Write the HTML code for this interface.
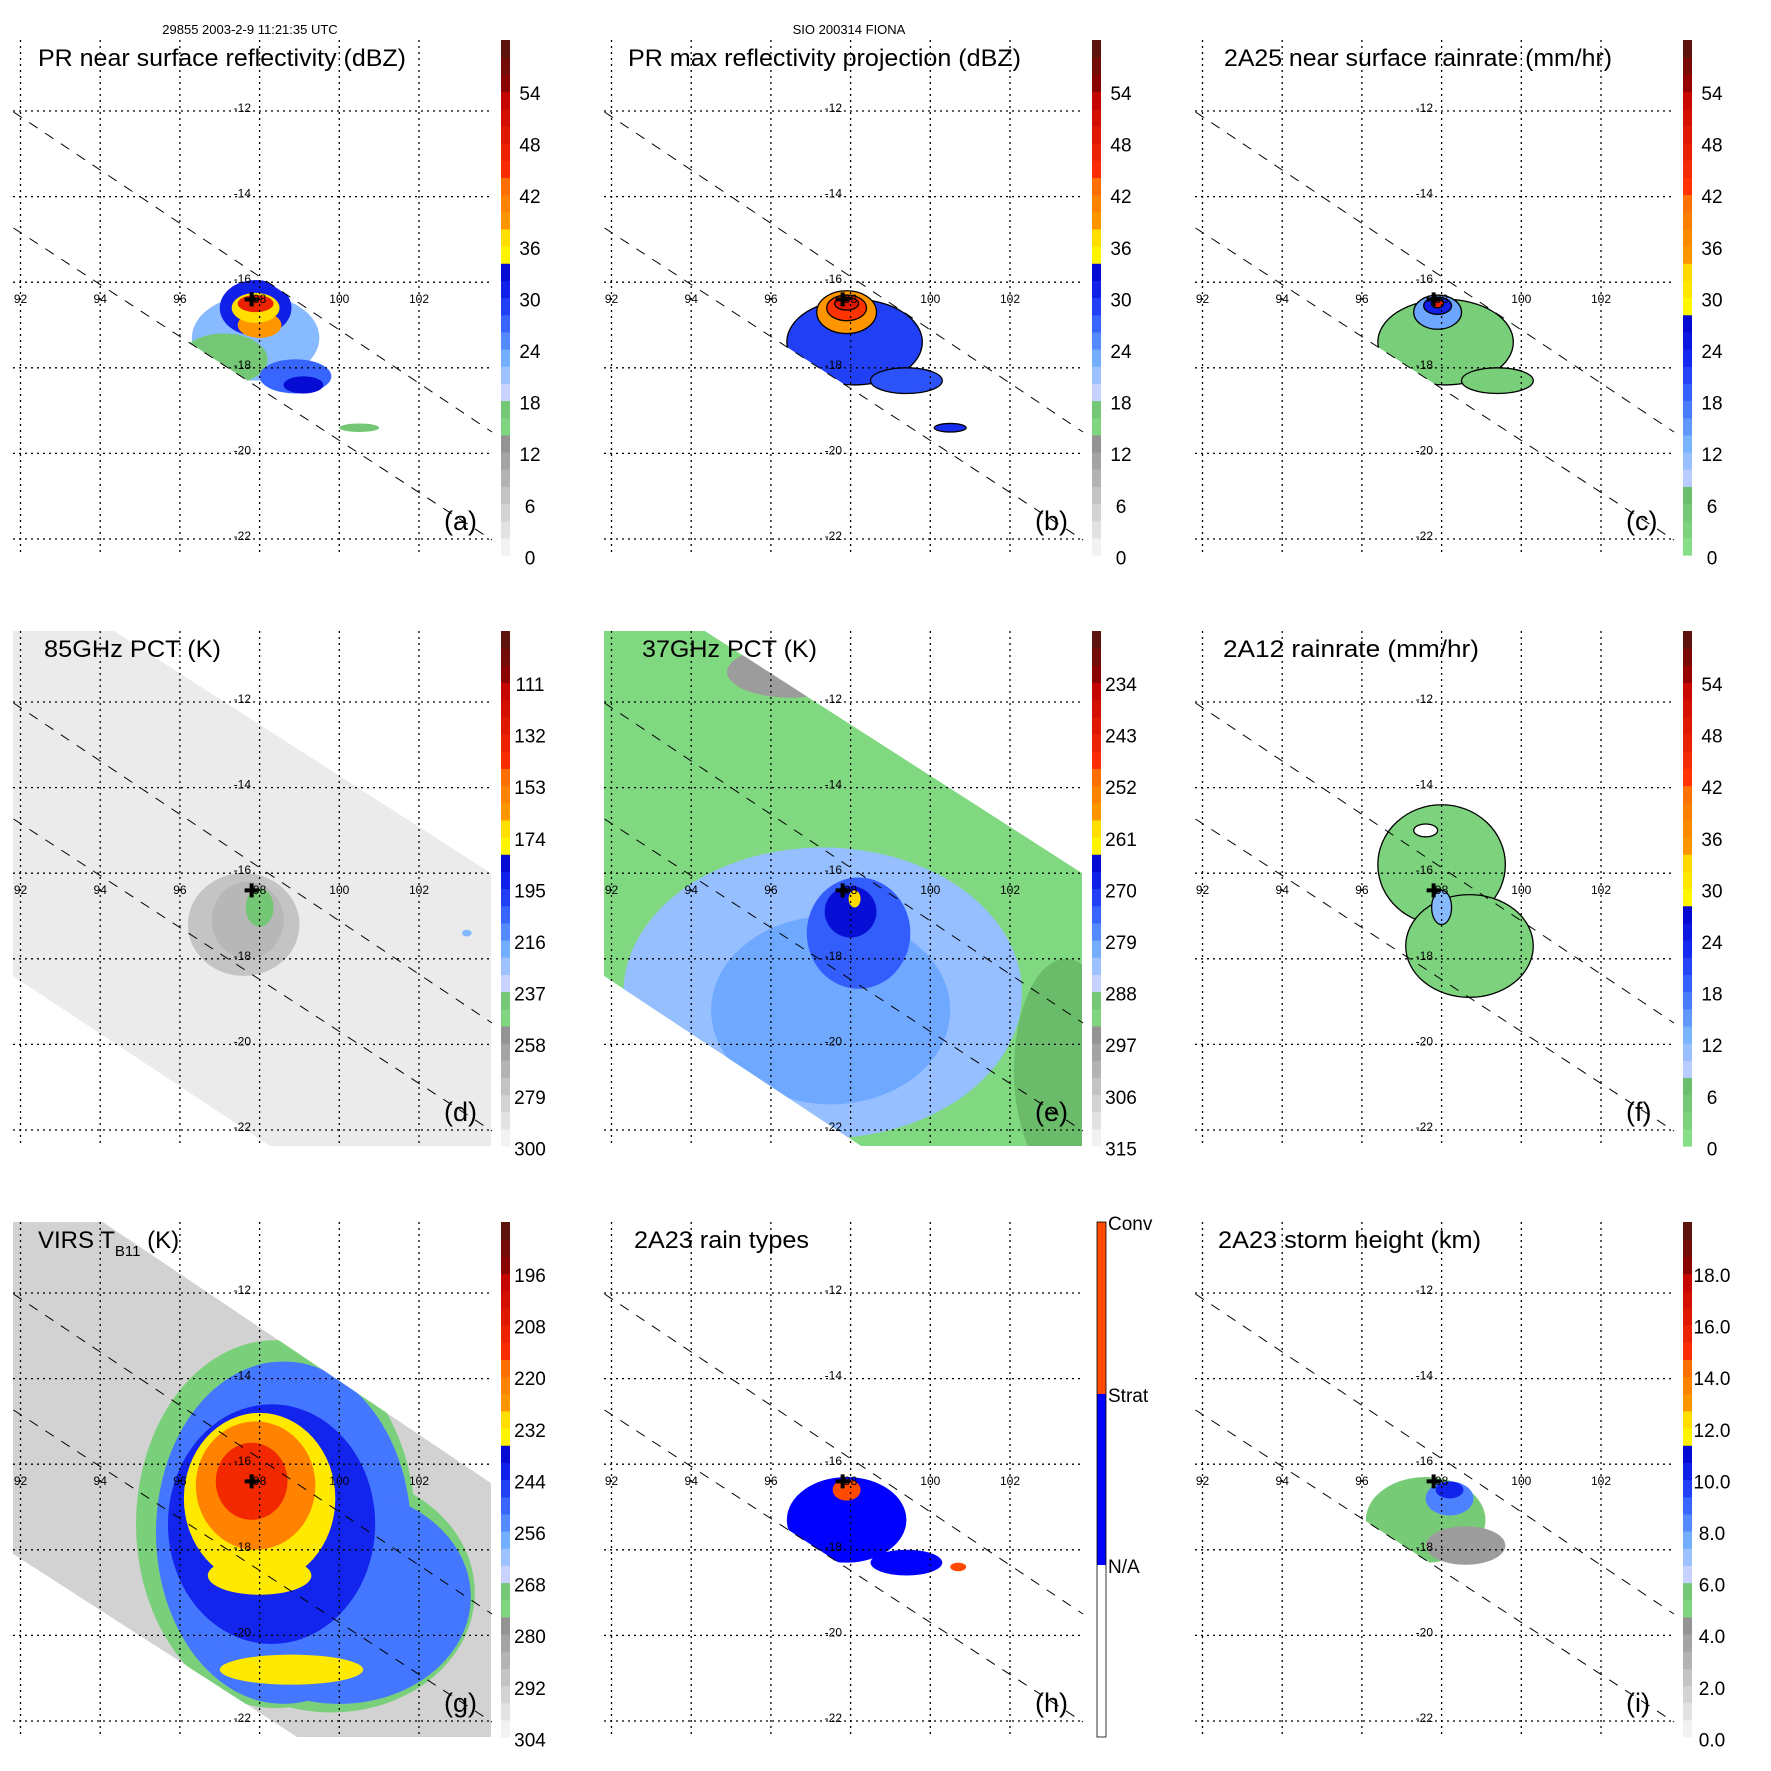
<!DOCTYPE html>
<html><head><meta charset="utf-8"><title>TRMM FIONA</title>
<style>html,body{margin:0;padding:0;background:#fff}svg{display:block}text{font-family:"Liberation Sans",sans-serif}</style>
</head><body>
<svg id="fig" xmlns="http://www.w3.org/2000/svg" width="1771" height="1771" viewBox="0 0 1771 1771">
<rect width="1771" height="1771" fill="#fff"/>
<text x="250" y="34" font-size="13" text-anchor="middle">29855 2003-2-9 11:21:35 UTC</text>
<text x="849" y="34" font-size="13" text-anchor="middle">SIO 200314 FIONA</text>
</svg>
<script>
// ---- axis data ----
const lonTicks=[92,94,96,98,100,102];
const latTicks=[-12,-14,-16,-18,-20,-22];
const titles=["PR near surface reflectivity (dBZ)","PR max reflectivity projection (dBZ)","2A25 near surface rainrate (mm/hr)","85GHz PCT (K)","37GHz PCT (K)","2A12 rainrate (mm/hr)","VIRS T","2A23 rain types","2A23 storm height (km)"];
const titleX=[38,37,42,44,51,41,38,43,36];
const titleW=[368,393,388,177,175,256,147,175,263];
const panelLetters=["(a)","(b)","(c)","(d)","(e)","(f)","(g)","(h)","(i)"];
const cbLabelsA=["54","48","42","36","30","24","18","12","6","0"];
const cbLabelsD=["111","132","153","174","195","216","237","258","279","300"];
const cbLabelsE=["234","243","252","261","270","279","288","297","306","315"];
const cbLabelsG=["196","208","220","232","244","256","268","280","292","304"];
const cbLabelsI=["18.0","16.0","14.0","12.0","10.0","8.0","6.0","4.0","2.0","0.0"];
const rainTypeLabels=["Conv","Strat","N/A"];
const stormCenter=[97.8,-16.4];
// ---- field data: [lon, lat, rxDeg, ryDeg, value] (value in panel units) ----
const cellsA=[[97.9,-17.3,1.6,1.0,22],[97.1,-17.8,1.1,0.6,17],[98.9,-18.2,0.9,0.4,27],[97.9,-16.6,0.9,0.65,31],[98.0,-17.0,0.55,0.3,39],[97.9,-16.6,0.6,0.35,37],[97.9,-16.5,0.45,0.2,47],[99.1,-18.4,0.5,0.2,33],[100.5,-19.4,0.5,0.1,17]];
const cellsB=[[98.1,-17.4,1.7,1.0,29],[99.4,-18.3,0.9,0.3,28],[97.9,-16.7,0.75,0.5,39],[97.9,-16.6,0.5,0.3,44],[97.9,-16.5,0.3,0.15,49],[100.5,-19.4,0.4,0.1,30]];
const cellsC=[[98.1,-17.4,1.7,1.0,4],[99.4,-18.3,0.9,0.3,4],[97.9,-16.7,0.6,0.4,14],[97.9,-16.55,0.35,0.2,24],[97.9,-16.5,0.15,0.1,48]];
const cellsD=[[97.6,-17.2,1.4,1.2,276],[97.7,-17.1,0.9,0.9,270],[98.0,-16.8,0.35,0.45,240],[103.2,-17.4,0.12,0.08,222]];
const cellsE=[[96.5,-11.3,1.6,0.6,297],[97.3,-18.8,5.0,3.4,283],[97.5,-19.2,3.0,2.2,280],[98.2,-17.4,1.3,1.3,274],[98.0,-16.9,0.65,0.6,266],[98.1,-16.6,0.15,0.2,259],[103.4,-20.6,1.3,2.6,287]];
const cellsF=[[98.0,-15.8,1.6,1.4,3],[98.7,-17.7,1.6,1.2,3],[98.0,-16.8,0.25,0.4,12],[97.6,-15.0,0.3,0.15,0]];
const cellsG=[[98.4,-17.4,3.5,4.3,272],[99.8,-19.0,3.6,2.8,272],[98.6,-17.6,3.2,4.0,252],[100.0,-19.1,3.3,2.5,252],[98.3,-17.4,2.6,2.8,243],[98.0,-16.8,1.9,2.0,232],[97.9,-16.5,1.5,1.5,222],[97.8,-16.4,0.9,0.9,212],[98.8,-20.8,1.8,0.35,232],[98.0,-18.6,1.3,0.45,232]];
const cellsH=[[97.9,-17.3,1.5,1.0,1],[99.4,-18.3,0.9,0.3,1],[97.9,-16.6,0.35,0.25,2],[100.7,-18.4,0.2,0.1,2]];
const cellsI=[[97.6,-17.3,1.5,1.0,5.5],[98.6,-17.9,1.0,0.45,4.0],[98.2,-16.8,0.6,0.4,8.5],[98.2,-16.6,0.35,0.2,10.2]];

const NS="http://www.w3.org/2000/svg";
const svg=document.getElementById('fig');
function el(t,a,p){const e=document.createElementNS(NS,t);for(const k in a)e.setAttribute(k,a[k]);(p||svg).appendChild(e);return e;}
function X(lon){return 20.5+(lon-92)*39.85;}
function Y(lat){return 111+(-12-lat)*42.8;}
function lerp(a,b,t){return a.map((v,i)=>Math.round(v+(b[i]-v)*t));}
function hex(c){return 'rgb('+c.join(',')+')';}
const bandsDbz=[[0,14,[250,250,250],[140,140,140]],[14,19,[134,222,134],[104,184,104]],[19,34,[200,210,255],[0,0,200]],[34,39,[255,255,0],[255,200,0]],[39,44,[255,150,0],[255,100,0]],[44,54,[255,50,0],[190,0,0]],[54,60,[150,0,0],[80,24,16]]];
const bandsRain=[[0,1,[255,255,255],[255,255,255]],[1,8,[134,222,134],[104,184,104]],[8,28,[200,210,255],[0,0,200]],[28,35,[255,255,0],[255,200,0]],[35,43,[255,150,0],[255,100,0]],[43,55,[255,50,0],[190,0,0]],[55,60,[150,0,0],[80,24,16]]];
function cmap(v,b){v=Math.max(0,Math.min(59.99,v));for(const s of b){if(v>=s[0]&&v<s[1]){let t=(v-s[0])/(s[1]-s[0]);if(s[1]-s[0]>8){return hex(blueRamp(t,s));}return hex(lerp(s[2],s[3],t));}}return '#000';}
function blueRamp(t,s){if(s[2][2]===255&&s[3][2]===200){const st=[[200,210,255],[120,180,255],[60,110,255],[20,40,240],[0,0,200]];const i=Math.min(3,Math.floor(t*4));return lerp(st[i],st[i+1],t*4-i);}return lerp(s[2],s[3],t);}
const swathPR="13.5,112 492,432 492,540 13.5,228";
const swathTMI="13,40 114,40 491,282 491,555 270,555 13,385";
const swathVIRS="13,40 103,40 491,301 491,555 297,555 13,372";
const panels=[
 {cells:cellsA,conv:v=>v,bands:bandsDbz,clip:swathPR,labels:cbLabelsA,stroke:false},
 {cells:cellsB,conv:v=>v,bands:bandsDbz,clip:swathPR,labels:cbLabelsA,stroke:true},
 {cells:cellsC,conv:v=>v,bands:bandsRain,clip:swathPR,labels:cbLabelsA,stroke:true},
 {cells:cellsD,conv:v=>(300-v)/3.5,bands:bandsDbz,clip:swathTMI,labels:cbLabelsD,bg:'#ebebeb',stroke:false},
 {cells:cellsE,conv:v=>(315-v)/1.5,bands:bandsDbz,clip:swathTMI,labels:cbLabelsE,bg:'#80d880',stroke:false},
 {cells:cellsF,conv:v=>v,bands:bandsRain,clip:swathPR,labels:cbLabelsA,stroke:true,noclip:true},
 {cells:cellsG,conv:v=>(304-v)/2,bands:bandsDbz,clip:swathVIRS,labels:cbLabelsG,bg:'#d2d2d2',stroke:false},
 {cells:cellsH,types:true,clip:swathPR},
 {cells:cellsI,conv:v=>v*3,bands:bandsDbz,clip:swathPR,labels:cbLabelsI,stroke:false}
];
panels.forEach((p,i)=>{
 const col=i%3,row=Math.floor(i/3);
 const g=el('g',{transform:`translate(${col*591},${row*591})`});
 
 
 const cp=el('clipPath',{id:'clip'+i},g);el('polygon',{points:p.clip},cp);
 const dg=el('g',p.noclip?{}:{'clip-path':`url(#clip${i})`},g);
 
 
 if(p.bg){const bgp=el('polygon',{points:p.clip,fill:p.bg},dg);
  
  }
 p.cells.forEach(c=>{
  let fill;
  if(p.types){fill=c[4]===2?'#ff4a00':'#0000ff';}
  else{const v=p.conv(c[4]);fill=(p.bands===bandsRain&&c[4]===0)?'#fff':cmap(v,p.bands);}
  const e=el('ellipse',{cx:X(c[0]),cy:Y(c[1]),rx:c[2]*39.85,ry:c[3]*42.8,fill:fill},dg);
  if(p.stroke){e.setAttribute('stroke','#000');e.setAttribute('stroke-width','1.3');}
  
  
 });
 // grid
 lonTicks.forEach(lon=>{const l=el('line',{x1:X(lon),x2:X(lon),y1:40,y2:555,stroke:'#000','stroke-width':1.3,'stroke-dasharray':'2,4'},g);
  
  const t=el('text',{x:X(lon),y:303,'font-size':12,'text-anchor':'middle'},g);t.textContent=lon;
  });
 latTicks.forEach(lat=>{const l=el('line',{x1:13,x2:491,y1:Y(lat),y2:Y(lat),stroke:'#000','stroke-width':1.3,'stroke-dasharray':'2,4'},g);
  
  const t=el('text',{x:251,y:Y(lat)+1,'font-size':12,'text-anchor':'end'},g);t.textContent=lat;
  });
 // PR swath edges
 [[13.5,112,492,432],[13.5,228,492,540]].forEach(s=>{const l=el('line',{x1:s[0],y1:s[1],x2:s[2],y2:s[3],stroke:'#000','stroke-width':1,'stroke-dasharray':'10,9'},g);
  });
 // storm center
 const cx=X(stormCenter[0]),cy=Y(stormCenter[1]);
 const cr=el('path',{d:`M${cx-7} ${cy}H${cx+7}M${cx} ${cy-7}V${cy+7}`,stroke:'#000','stroke-width':4},g);
 
 // title
 const tt=el('text',{x:titleX[i],y:66,'font-size':24,textLength:titleW[i],lengthAdjust:'spacingAndGlyphs'},g);
 
 if(i===6){tt.removeAttribute('textLength');tt.textContent='VIRS T';const sub=el('tspan',{'font-size':15,dy:8},tt);sub.textContent='B11';const r=el('tspan',{dy:-8},tt);r.textContent=' (K)';}
 else tt.textContent=titles[i];
 const lt=el('text',{x:444,y:530,'font-size':27},g);lt.textContent=panelLetters[i];
 
 // colorbar
 const cb=el('g',{},g);
 if(p.types){
  el('rect',{x:506,y:40,width:9,height:172,fill:'#ff4a00'},cb);
  el('rect',{x:506,y:212,width:9,height:171,fill:'#0000ff'},cb);
  el('rect',{x:506,y:383,width:9,height:172,fill:'#fff'},cb);
  el('rect',{x:506,y:40,width:9,height:515,fill:'none',stroke:'#000','stroke-width':0.8},cb);
  rainTypeLabels.forEach((s,k)=>{const t=el('text',{x:517,y:[40,212,383][k]+8,'font-size':19},cb);t.textContent=s;
   });
 } else {
  const u=515/60;
  for(let v=0;v<60;v+=2){el('rect',{x:501,y:555-(v+2)*u,width:9,height:2*u+0.6,fill:cmap(v+1,p.bands)},cb);}
  p.labels.forEach((s,k)=>{const t=el('text',{x:530,y:93+k*51.6+7,'font-size':19,'text-anchor':'middle'},cb);t.textContent=s;
   });
 }
});
</script>
</body></html>
